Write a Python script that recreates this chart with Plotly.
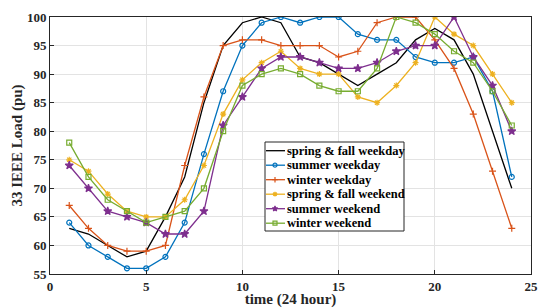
import plotly.graph_objects as go

hours = list(range(1, 25))
spring_fall_weekday = [63, 62, 60, 58, 59, 65, 72, 85, 95, 99, 100, 99, 93, 92, 90, 88, 90, 92, 96, 98, 96, 90, 80, 70]
summer_weekday = [64, 60, 58, 56, 56, 58, 64, 76, 87, 95, 99, 100, 99, 100, 100, 97, 96, 96, 93, 92, 92, 93, 87, 72]
winter_weekday = [67, 63, 60, 59, 59, 60, 74, 86, 95, 96, 96, 95, 95, 95, 93, 94, 99, 100, 100, 96, 91, 83, 73, 63]
spring_fall_weekend = [75, 73, 69, 66, 65, 65, 68, 74, 83, 89, 92, 94, 91, 90, 90, 86, 85, 88, 92, 100, 97, 95, 90, 85]
summer_weekend = [74, 70, 66, 65, 64, 62, 62, 66, 81, 86, 91, 93, 93, 92, 91, 91, 92, 94, 95, 95, 100, 93, 88, 80]
winter_weekend = [78, 72, 68, 66, 64, 65, 66, 70, 80, 88, 90, 91, 90, 88, 87, 87, 91, 100, 99, 97, 94, 92, 87, 81]

series_names = ["spring & fall weekday", "summer weekday", "winter weekday",
                "spring & fall weekend", "summer weekend", "winter weekend"]
series_values = [spring_fall_weekday, summer_weekday, winter_weekday,
                 spring_fall_weekend, summer_weekend, winter_weekend]

x_ticks = [0, 5, 10, 15, 20, 25]
y_ticks = [55, 60, 65, 70, 75, 80, 85, 90, 95, 100]

colors = ["#000000", "#0072BD", "#D95319", "#EDB120", "#7E2F8E", "#77AC30"]
symbols = [None, "circle-open", "cross-thin-open", "asterisk-open", "star", "square-open"]
sizes = [0, 5, 5, 5, 6, 5]

W, H = 538, 308
ML, MR, MT, MB = 50, 7, 17, 34
PW, PH = W - ML - MR, H - MT - MB


def px_to_paper_x(px):
    return (px - ML) / PW


def px_to_paper_y(py):
    return (H - MB - py) / PH


fig = go.Figure()
for name, vals, color, sym, sz in zip(series_names, series_values, colors, symbols, sizes):
    if sym is None:
        fig.add_trace(go.Scatter(x=hours, y=vals, name=name, mode="lines",
                                 line=dict(color=color, width=1.3), showlegend=False))
    else:
        fig.add_trace(go.Scatter(x=hours, y=vals, name=name, mode="lines+markers",
                                 line=dict(color=color, width=1.3), showlegend=False,
                                 marker=dict(symbol=sym, size=sz, color=color,
                                             line=dict(color=color, width=1.2))))

# manual legend drawn on an overlay axis spanning the plot area (0..1)
leg_left, leg_right, leg_top, leg_bot = 265, 404, 142, 231
entry_y0, entry_dy = 150.7, 14.5
sample_x0, sample_x1 = 265, 285
lx0, lx1 = px_to_paper_x(leg_left), px_to_paper_x(leg_right)
ly0, ly1 = px_to_paper_y(leg_bot), px_to_paper_y(leg_top)
fig.add_trace(go.Scatter(x=[lx0, lx1, lx1, lx0, lx0], y=[ly0, ly0, ly1, ly1, ly0],
                         xaxis="x2", yaxis="y2", mode="lines", fill="toself",
                         fillcolor="white", line=dict(color="#262626", width=1),
                         showlegend=False, hoverinfo="skip"))
annotations = []
for i, (name, color, sym, sz) in enumerate(zip(series_names, colors, symbols, sizes)):
    yy = px_to_paper_y(entry_y0 + i * entry_dy)
    fig.add_trace(go.Scatter(x=[px_to_paper_x(sample_x0 + 1), px_to_paper_x(sample_x1)], y=[yy, yy],
                             xaxis="x2", yaxis="y2", mode="lines", showlegend=False,
                             hoverinfo="skip", line=dict(color=color, width=1.3)))
    if sym is not None:
        fig.add_trace(go.Scatter(x=[px_to_paper_x((sample_x0 + sample_x1) / 2)], y=[yy],
                                 xaxis="x2", yaxis="y2", mode="markers", showlegend=False,
                                 hoverinfo="skip",
                                 marker=dict(symbol=sym, size=4, color=color,
                                             line=dict(color=color, width=1.2))))
    annotations.append(dict(text=name, xref="paper", yref="paper",
                            x=px_to_paper_x(285), y=yy, xanchor="left", yanchor="middle",
                            showarrow=False,
                            font=dict(size=12.5, color="#000000", weight="bold")))

font_fam = "Liberation Serif, Times New Roman, serif"
fig.update_layout(
    width=W, height=H,
    margin=dict(l=ML, r=MR, t=MT, b=MB),
    plot_bgcolor="white", paper_bgcolor="white",
    font=dict(family=font_fam, size=13, color="#262626", weight="bold"),
    xaxis=dict(range=[0, 25], tickvals=x_ticks, showgrid=True, gridcolor="#e3e3e3",
               showline=True, linecolor="#262626", linewidth=1, mirror=True,
               ticks="inside", ticklen=4, tickcolor="#262626", zeroline=False,
               automargin=False,
               title=dict(text="time (24 hour)", standoff=3,
                          font=dict(size=15, weight="bold"))),
    yaxis=dict(range=[55, 100], tickvals=y_ticks, showgrid=True, gridcolor="#e3e3e3",
               showline=True, linecolor="#262626", linewidth=1, mirror=True,
               ticks="inside", ticklen=4, tickcolor="#262626", zeroline=False,
               automargin=False,
               title=dict(text="33 IEEE Load (pu)", standoff=0,
                          font=dict(size=15, weight="bold"))),
    xaxis2=dict(overlaying="x", range=[0, 1], visible=False),
    yaxis2=dict(overlaying="y", range=[0, 1], visible=False),
    annotations=annotations,
    showlegend=False,
)

fig.write_html("out.html", config={"displayModeBar": False},
               post_script="document.body.style.margin='0';")
